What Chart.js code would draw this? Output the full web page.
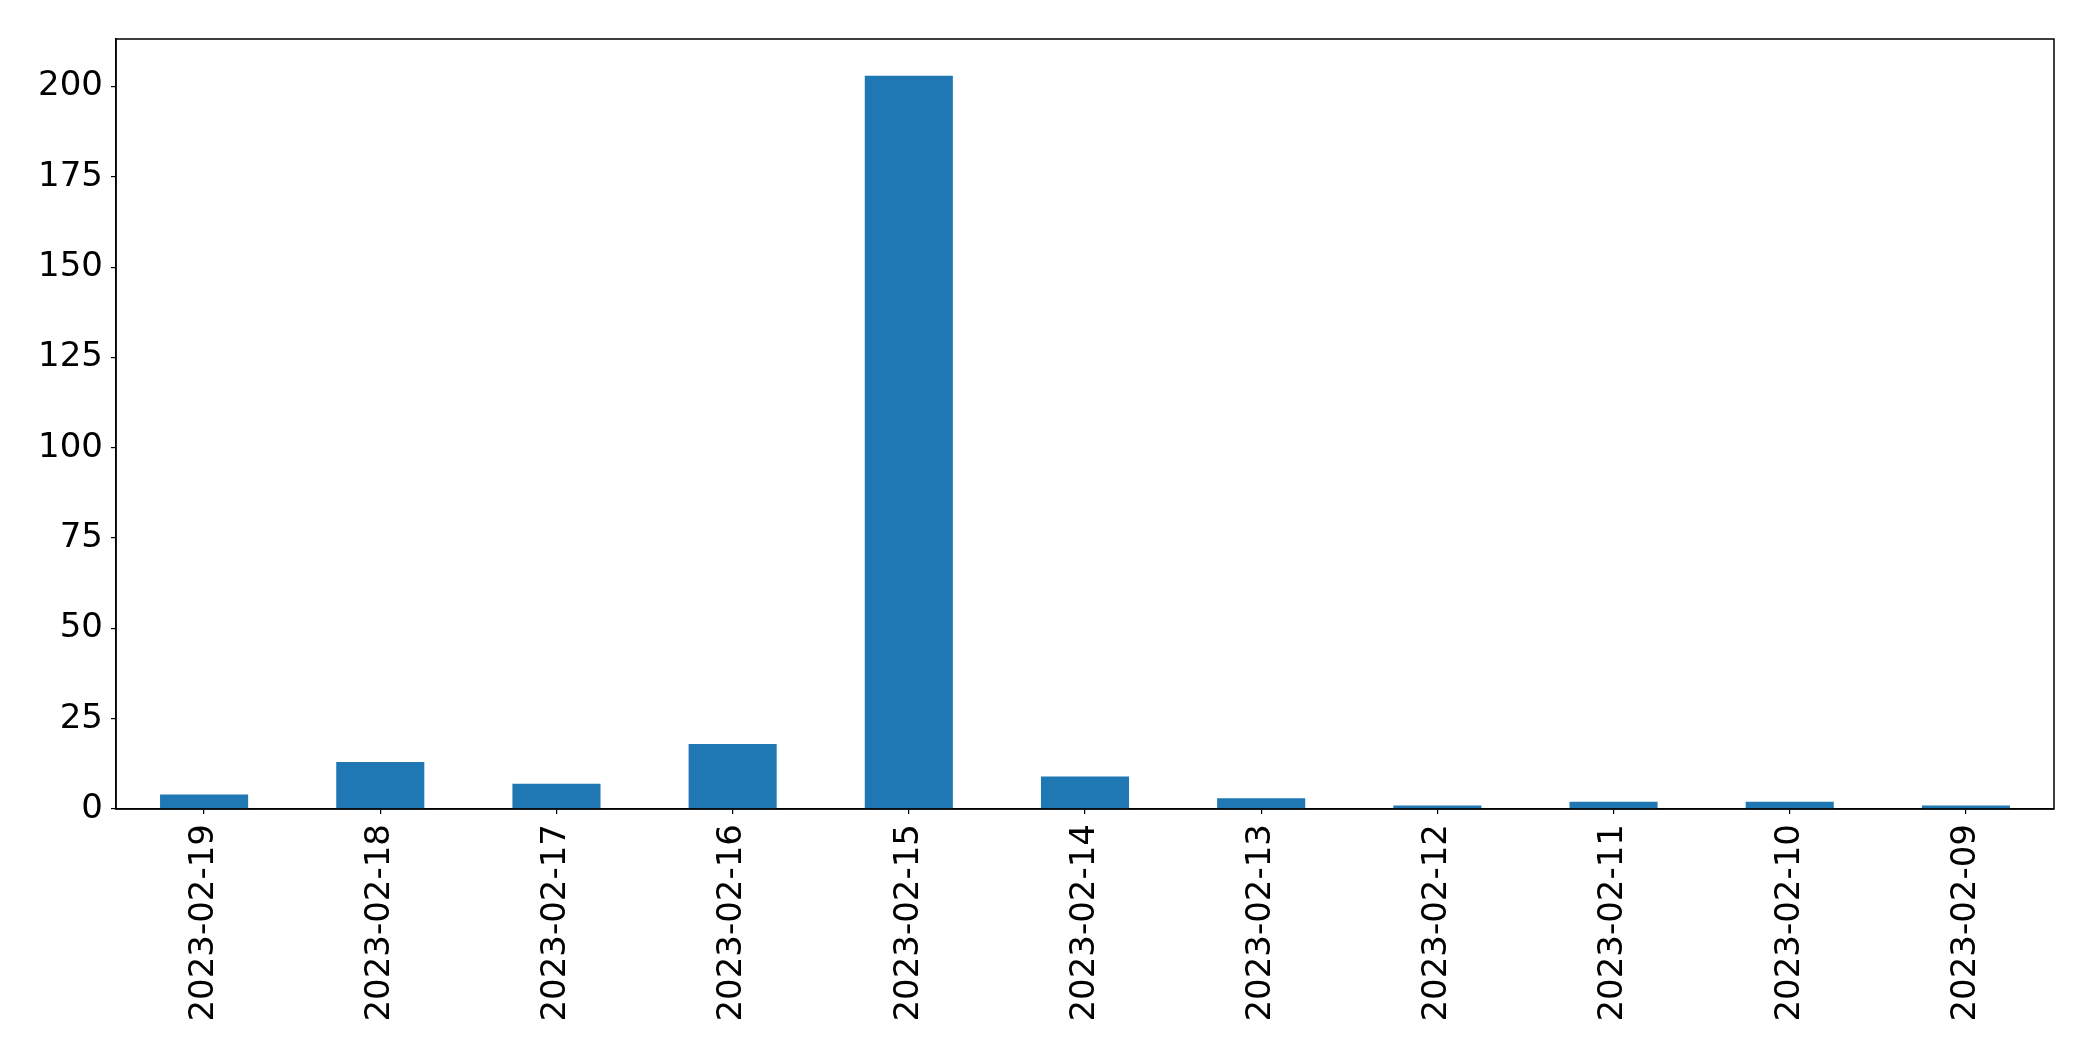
<!DOCTYPE html>
<html>
<head>
<meta charset="utf-8">
<script src="https://cdn.jsdelivr.net/npm/chart.js@4.4.0/dist/chart.umd.min.js"></script>
<style>
  html, body { margin: 0; padding: 0; background: #ffffff; }
  #wrap { width: 2093px; height: 1061px; position: relative; }
</style>
</head>
<body>
<div id="wrap"><canvas id="c" width="2093" height="1061"></canvas></div>
<script>
const categories = ["2023-02-19","2023-02-18","2023-02-17","2023-02-16","2023-02-15","2023-02-14","2023-02-13","2023-02-12","2023-02-11","2023-02-10","2023-02-09"];
const counts = [4, 13, 7, 18, 203, 9, 3, 1, 2, 2, 1];
const yTickStep = 25;

const yMax = Math.max(...counts) * 1.05;

const frame = {
  id: 'frame',
  afterDatasetsDraw(chart) {
    const a = chart.chartArea, ctx = chart.ctx;
    ctx.save();
    ctx.strokeStyle = '#000';
    ctx.lineWidth = 1.5;
    ctx.strokeRect(a.left, a.top, a.right - a.left, a.bottom - a.top);
    ctx.restore();
  }
};

new Chart(document.getElementById('c'), {
  type: 'bar',
  data: {
    labels: categories,
    datasets: [{
      data: counts,
      backgroundColor: '#1f77b4',
      borderWidth: 0,
      categoryPercentage: 1.0,
      barPercentage: 0.5
    }]
  },
  plugins: [frame],
  options: {
    responsive: false,
    animation: false,
    events: [],
    layout: { padding: { left: 0, top: 39, right: 39, bottom: 0 } },
    plugins: { legend: { display: false }, tooltip: { enabled: false } },
    scales: {
      x: {
        offset: true,
        grid: { display: true, drawOnChartArea: false, drawTicks: true, tickLength: 5, color: '#000', lineWidth: 1.2, offset: false },
        border: { display: true, color: '#000', width: 1.5 },
        ticks: {
          color: '#000',
          font: { family: 'DejaVu Sans', size: 34 },
          minRotation: 90, maxRotation: 90,
          padding: 10,
          autoSkip: false
        },
        afterFit(s) { s.height = 252; }
      },
      y: {
        min: 0,
        max: yMax,
        grid: { display: true, drawOnChartArea: false, drawTicks: true, tickLength: 5, color: '#000', lineWidth: 1.2 },
        border: { display: true, color: '#000', width: 1.5 },
        ticks: {
          stepSize: yTickStep,
          includeBounds: false,
          color: '#000',
          font: { family: 'DejaVu Sans', size: 34 },
          padding: 8
        },
        afterFit(s) { s.width = 116; }
      }
    }
  }
});
</script>
</body>
</html>
